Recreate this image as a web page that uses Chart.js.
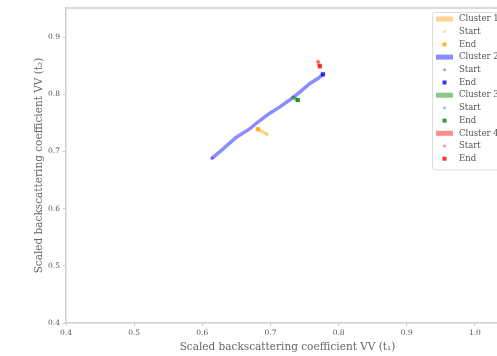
<!DOCTYPE html>
<html>
<head>
<meta charset="utf-8">
<script src="https://cdn.jsdelivr.net/npm/chart.js@4/dist/chart.umd.min.js"></script>
<style>
  html, body { margin: 0; padding: 0; overflow: hidden; background: #fff; }
  canvas { display: block; }
</style>
</head>
<body>
<canvas id="c" width="515" height="356"></canvas>
<script>
// Tick values on both axes
const xTicks = [0.4, 0.5, 0.6, 0.7, 0.8, 0.9, 1.0];
const yTicks = [0.4, 0.5, 0.6, 0.7, 0.8, 0.9];

// Cluster trajectories (first point = start, last point = end)
const clusterNames = ['Cluster 1', 'Cluster 2', 'Cluster 3', 'Cluster 4'];
const clusterColors = ['255,165,0', '0,0,255', '0,128,0', '255,0,0'];

const cluster1X = [0.695, 0.6815];
const cluster1Y = [0.730, 0.739];

const cluster2X = [0.614, 0.631, 0.650, 0.670, 0.682, 0.699, 0.714, 0.728, 0.743, 0.758, 0.770, 0.777];
const cluster2Y = [0.688, 0.705, 0.725, 0.740, 0.752, 0.767, 0.778, 0.790, 0.804, 0.819, 0.828, 0.835];

const cluster3X = [0.733, 0.740];
const cluster3Y = [0.795, 0.790];

const cluster4X = [0.7695, 0.7724];
const cluster4Y = [0.858, 0.849];

const xTitle = 'Scaled backscattering coefficient VV (t\u2081)';
const yTitle = 'Scaled backscattering coefficient VV (t\u2082)';
const startLabel = 'Start';
const endLabel = 'End';

const allX = [cluster1X, cluster2X, cluster3X, cluster4X];
const allY = [cluster1Y, cluster2Y, cluster3Y, cluster4Y];

const serif = "'DejaVu Serif', serif";

const datasets = [];
const total = clusterNames.length * 3;
clusterNames.forEach((name, i) => {
  const xs = allX[i], ys = allY[i];
  const pts = xs.map((x, k) => ({ x: x, y: ys[k] }));
  const c = clusterColors[i];
  datasets.push({
    label: name, data: pts, showLine: true,
    borderColor: `rgba(${c},0.45)`, backgroundColor: `rgba(${c},0.45)`,
    borderWidth: 3.5, pointRadius: 0, borderCapStyle: 'butt', kind: 'line',
    order: total - datasets.length
  });
  datasets.push({
    label: startLabel, data: [pts[0]],
    pointStyle: 'circle', pointRadius: 1.6,
    backgroundColor: `rgba(${c},0.45)`, borderWidth: 0, kind: 'point',
    order: total - datasets.length
  });
  datasets.push({
    label: endLabel, data: [pts[pts.length - 1]],
    pointStyle: 'rect', pointRadius: 3,
    backgroundColor: `rgba(${c},0.8)`, borderWidth: 0, kind: 'point',
    order: total - datasets.length
  });
});

// Frame on top and right of the plotting area
const frame = {
  id: 'frame',
  beforeDatasetsDraw(chart) {
    const { ctx, chartArea: a } = chart;
    ctx.save();
    ctx.strokeStyle = '#cfcfcf';
    ctx.lineWidth = 1.5;
    ctx.beginPath();
    ctx.moveTo(a.left, a.top); ctx.lineTo(a.right, a.top); ctx.lineTo(a.right, a.bottom);
    ctx.stroke();
    ctx.restore();
  }
};

// Boxed legend in the upper right corner
const boxLegend = {
  id: 'boxLegend',
  afterDraw(chart) {
    const { ctx, chartArea: a } = chart;
    const ds = chart.data.datasets;
    const rowH = 12.7;
    const x0 = 432, y0 = 12;
    const w = a.right - 5 - x0, h = ds.length * rowH + 5;
    ctx.save();
    ctx.fillStyle = 'rgba(255,255,255,0.85)';
    ctx.strokeStyle = '#dddddd';
    ctx.lineWidth = 1;
    ctx.beginPath();
    ctx.roundRect(x0 + 0.5, y0 + 0.5, w, h, 2);
    ctx.fill(); ctx.stroke();
    ctx.font = `8.5px ${serif}`;
    ctx.textBaseline = 'middle';
    ds.forEach((d, i) => {
      const cy = y0 + 7 + i * rowH;
      if (d.kind === 'line') {
        ctx.fillStyle = d.borderColor;
        ctx.fillRect(436, cy - 2.5, 17, 5);
      } else {
        ctx.fillStyle = d.backgroundColor;
        ctx.beginPath();
        if (d.pointStyle === 'rect') {
          ctx.rect(444.5 - 2, cy - 2, 4, 4);
        } else {
          ctx.arc(444.5, cy, 1.4, 0, Math.PI * 2);
        }
        ctx.fill();
      }
      ctx.fillStyle = '#555';
      ctx.fillText(d.label, 459, cy);
    });
    ctx.restore();
  }
};

const axisCommon = (ticks, title, fitKey, fitVal) => ({
  type: 'linear',
  grid: { display: true, drawOnChartArea: false, drawTicks: true, tickLength: 3, color: '#c8c8c8', lineWidth: 1 },
  border: { display: true, color: '#cfcfcf', width: 1.5 },
  afterBuildTicks(scale) { scale.ticks = ticks.map(v => ({ value: v })); },
  afterFit(scale) { scale[fitKey] = fitVal; },
  ticks: {
    color: '#555', padding: 3, font: { family: serif, size: 7.5 },
    callback: v => Number(v).toFixed(1)
  },
  title: { display: true, text: title, color: '#666', font: { family: serif, size: 10.5 }, padding: { top: 1, bottom: 2 } }
});

const xAxis = Object.assign(axisCommon(xTicks, xTitle, 'height', 33), { min: 0.4, max: 1.05 });
const yAxis = Object.assign(axisCommon(yTicks, yTitle, 'width', 34), { min: 0.4, max: 0.951 });

new Chart(document.getElementById('c'), {
  type: 'scatter',
  data: { datasets },
  options: {
    responsive: false,
    animation: false,
    layout: { padding: { left: 32, top: 8, right: 6, bottom: 0 } },
    plugins: { legend: { display: false }, tooltip: { enabled: false } },
    scales: { x: xAxis, y: yAxis }
  },
  plugins: [frame, boxLegend]
});
</script>
</body>
</html>
